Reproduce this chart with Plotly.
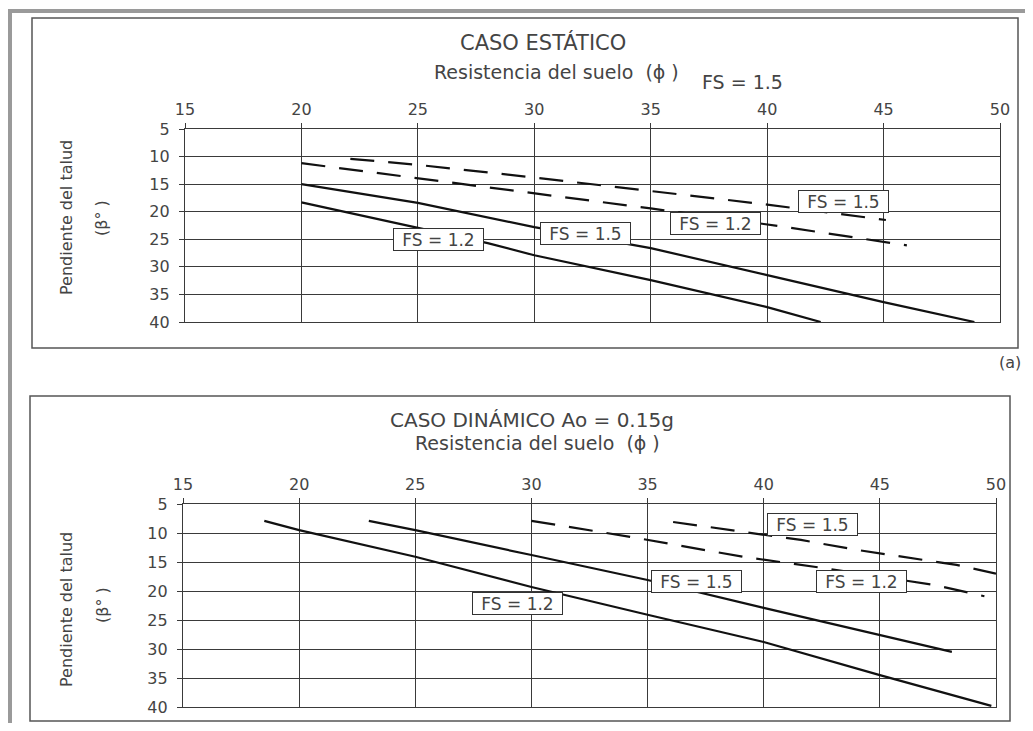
import plotly.graph_objects as go

# ---------------- data ----------------
x_ticks = [15, 20, 25, 30, 35, 40, 45, 50]
y_ticks = [5, 10, 15, 20, 25, 30, 35, 40]

# CASO ESTÁTICO
static_phi_fs12 = [20, 24.8, 28, 30, 35, 40, 42.3]
static_beta_fs12 = [18.3, 22.8, 25.7, 27.9, 32.4, 37.3, 40]
static_phi_fs15 = [20, 25, 30, 35, 40, 45, 48.9]
static_beta_fs15 = [15.0, 18.4, 22.8, 26.6, 31.5, 36.4, 40]
static_phi_fs12_dash = [20, 25, 30, 35, 40.5, 46]
static_beta_fs12_dash = [11.2, 13.9, 16.6, 19.4, 22.6, 26.1]
static_phi_fs15_dash = [22.1, 25, 30, 35, 40, 45.1]
static_beta_fs15_dash = [10.4, 11.5, 13.8, 16.2, 18.7, 21.5]

# CASO DINÁMICO
dyn_phi_fs12 = [18.5, 20, 25, 30, 35, 40, 45, 49.8]
dyn_beta_fs12 = [7.9, 9.5, 14.1, 19.3, 24.1, 28.8, 34.5, 39.8]
dyn_phi_fs15 = [23, 25, 30, 35, 40, 45, 48.1]
dyn_beta_fs15 = [7.9, 9.5, 13.8, 18.1, 22.9, 27.6, 30.5]
dyn_phi_fs12_dash = [30, 34.6, 39.1, 42.5, 47.4, 49.5]
dyn_beta_fs12_dash = [7.9, 10.9, 14.1, 16, 19, 20.9]
dyn_phi_fs15_dash = [36.1, 39.5, 41.6, 44, 46, 48.3, 50]
dyn_beta_fs15_dash = [8.1, 10, 11.2, 12.9, 14.1, 15.5, 17]

label_fs12 = "FS = 1.2"
label_fs15 = "FS = 1.5"

# ---------------- figure ----------------
# the page body adds an 8px margin, so the figure is sized to fill the window exactly
OFF = 8
W, H = 1033 - 2 * OFF, 731 - 2 * OFF
FONT = "DejaVu Sans"
TXT = "#444444"
GRID = "#3a3a3a"


def px(x):
    return (x - OFF) / W


def py(y):
    return 1 - (y - OFF) / H


fig = go.Figure()

solid = dict(color="#111111", width=2.2)
dashed = dict(color="#111111", width=2.2, dash="24px,14px")

series = [
    (static_phi_fs12, static_beta_fs12, solid, "x", "y"),
    (static_phi_fs15, static_beta_fs15, solid, "x", "y"),
    (static_phi_fs12_dash, static_beta_fs12_dash, dashed, "x", "y"),
    (static_phi_fs15_dash, static_beta_fs15_dash, dashed, "x", "y"),
    (dyn_phi_fs12, dyn_beta_fs12, solid, "x2", "y2"),
    (dyn_phi_fs15, dyn_beta_fs15, solid, "x2", "y2"),
    (dyn_phi_fs12_dash, dyn_beta_fs12_dash, dashed, "x2", "y2"),
    (dyn_phi_fs15_dash, dyn_beta_fs15_dash, dashed, "x2", "y2"),
]
for xs, ys, ln, xa, ya in series:
    fig.add_trace(go.Scatter(x=xs, y=ys, mode="lines", line=ln,
                             xaxis=xa, yaxis=ya, showlegend=False,
                             hoverinfo="skip"))

axis_common = dict(
    showgrid=True, gridcolor=GRID, gridwidth=1.3,
    showline=True, linecolor=GRID, linewidth=1.3, mirror=True,
    zeroline=False, ticks="outside", ticklen=5, tickcolor=GRID,
    tickfont=dict(family=FONT, size=16, color=TXT),
    fixedrange=True, automargin=False,
)

fig.update_layout(
    width=W, height=H,
    margin=dict(l=0, r=0, t=0, b=0, autoexpand=False),
    paper_bgcolor="white", plot_bgcolor="white",
    showlegend=False,
    xaxis=dict(domain=[px(185), px(1000)], anchor="y", side="top",
               range=[15, 50], tickvals=x_ticks, ticklabelstandoff=1,
               **axis_common),
    yaxis=dict(domain=[py(322), py(129)], anchor="x",
               range=[40, 5], tickvals=y_ticks, ticklabelstandoff=6,
               **axis_common),
    xaxis2=dict(domain=[px(183), px(996)], anchor="y2", side="top",
                range=[15, 50], tickvals=x_ticks, ticklabelstandoff=1,
                **axis_common),
    yaxis2=dict(domain=[py(707), py(504)], anchor="x2",
                range=[40, 5], tickvals=y_ticks, ticklabelstandoff=6,
                **axis_common),
)

shapes = [
    # outer panel frames
    dict(type="rect", xref="paper", yref="paper",
         x0=px(32), x1=px(1018), y0=py(348), y1=py(18),
         line=dict(color="#555555", width=1.5)),
    dict(type="rect", xref="paper", yref="paper",
         x0=px(30), x1=px(1010), y0=py(721), y1=py(396),
         line=dict(color="#555555", width=1.5)),
    # grey page border (top and left)
    dict(type="line", xref="paper", yref="paper",
         x0=px(8), x1=1, y0=py(11), y1=py(11),
         line=dict(color="#9a9a9a", width=4)),
    dict(type="line", xref="paper", yref="paper",
         x0=px(10), x1=px(10), y0=py(9), y1=0,
         line=dict(color="#9a9a9a", width=4)),
]
fig.update_layout(shapes=shapes)

ann = []


def text(x, y, t, size=19, angle=0):
    ann.append(dict(x=px(x), y=py(y), xref="paper", yref="paper", text=t,
                    showarrow=False, textangle=angle,
                    font=dict(family=FONT, size=size, color=TXT),
                    xanchor="center", yanchor="middle"))


def box(x, y, t, xr, yr):
    ann.append(dict(x=x, y=y, xref=xr, yref=yr, text=t, showarrow=False,
                    font=dict(family=FONT, size=17, color=TXT),
                    bgcolor="white", bordercolor="#333333", borderwidth=1,
                    borderpad=0, width=89, height=21,
                    xanchor="center", yanchor="middle"))


# top panel texts
text(543, 42, "CASO ESTÁTICO", size=21)
text(556, 72, "Resistencia del suelo  (ϕ )")
text(742, 82, "FS = 1.5")
text(1010, 362, "(a)", size=16)
text(66, 218, "Pendiente del talud", size=16, angle=-90)
text(101, 218, "(β° )", size=16, angle=-90)

# bottom panel texts
text(532, 420, "CASO DINÁMICO Ao = 0.15g", size=20)
text(537, 443, "Resistencia del suelo  (ϕ )")
text(66, 610, "Pendiente del talud", size=16, angle=-90)
text(102, 605, "(β° )", size=16, angle=-90)

# curve labels
box(25.9, 25.1, label_fs12, "x", "y")
box(32.2, 23.9, label_fs15, "x", "y")
box(37.8, 22.2, label_fs12, "x", "y")
box(43.3, 18.2, label_fs15, "x", "y")

box(29.4, 22.1, label_fs12, "x2", "y2")
box(37.1, 18.4, label_fs15, "x2", "y2")
box(44.2, 18.4, label_fs12, "x2", "y2")
box(42.1, 8.6, label_fs15, "x2", "y2")

fig.update_layout(annotations=ann)

fig.write_html("out.html")
